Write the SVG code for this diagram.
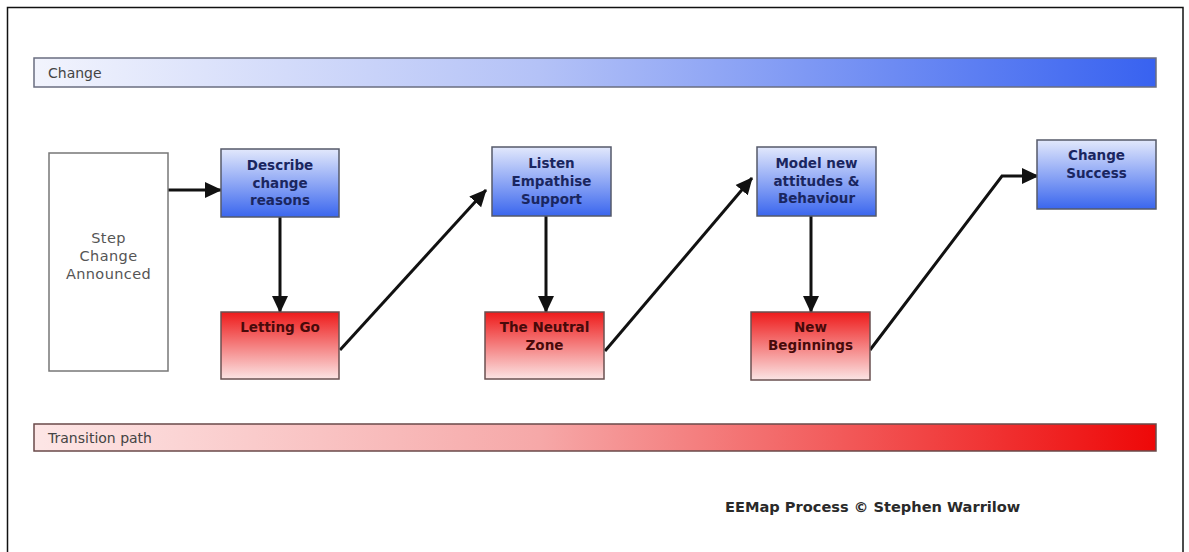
<svg xmlns="http://www.w3.org/2000/svg" width="1189" height="552" viewBox="0 0 1189 552">
<style>
.blue{stroke:#555a6a;stroke-width:1.5;fill:url(#gBlue)}
.red{stroke:#6a5050;stroke-width:1.5;fill:url(#gRed)}
.bt{font-family:"DejaVu Sans",Verdana,sans-serif;font-weight:bold;font-size:13.5px;fill:#1a2660;text-anchor:middle}
.rt{font-family:"DejaVu Sans",Verdana,sans-serif;font-weight:bold;font-size:13.5px;fill:#480a0a;text-anchor:middle}
.lbl{font-family:"DejaVu Sans",Verdana,sans-serif;font-size:14px;fill:#444}
.con{stroke:#111;stroke-width:3;fill:none;marker-end:url(#arr)}
</style>
<defs>
<linearGradient id="gBlue" x1="0" y1="0" x2="0" y2="1">
<stop offset="0" stop-color="#e2e8fc"/><stop offset="1" stop-color="#3a66ee"/>
</linearGradient>
<linearGradient id="gRed" x1="0" y1="0" x2="0" y2="1">
<stop offset="0" stop-color="#ee1a1a"/><stop offset="1" stop-color="#fbe4e4"/>
</linearGradient>
<linearGradient id="gBarB" x1="0" y1="0" x2="1" y2="0">
<stop offset="0" stop-color="#f2f4fd"/><stop offset="0.45" stop-color="#b4c2f7"/><stop offset="1" stop-color="#3862f0"/>
</linearGradient>
<linearGradient id="gBarR" x1="0" y1="0" x2="1" y2="0">
<stop offset="0" stop-color="#fde6e6"/><stop offset="0.45" stop-color="#f6a8a8"/><stop offset="1" stop-color="#ee0808"/>
</linearGradient>
<marker id="arr" markerUnits="userSpaceOnUse" markerWidth="18" markerHeight="18" viewBox="0 0 18 18" refX="16" refY="9" orient="auto">
<path d="M0,1 L17,9 L0,17 Z" fill="#111"/>
</marker>
</defs>
<rect x="0" y="0" width="1189" height="552" fill="#fff"/>
<rect x="7.5" y="7.5" width="1175.5" height="560" fill="none" stroke="#111" stroke-width="1.5"/>

<g id="bar-change">
<rect x="34" y="58" width="1122" height="29" fill="url(#gBarB)" stroke="#6a6e80" stroke-width="1.5"/>
<text class="lbl" x="48" y="78">Change</text>
</g>
<g id="bar-transition">
<rect x="34" y="424" width="1122" height="27" fill="url(#gBarR)" stroke="#6a4a4a" stroke-width="1.5"/>
<text class="lbl" x="48" y="443">Transition path</text>
</g>

<g id="connectors">
<line class="con" x1="168" y1="190" x2="221" y2="190"/>
<line class="con" x1="280" y1="217" x2="280" y2="312"/>
<line class="con" x1="340" y1="350" x2="486" y2="190"/>
<line class="con" x1="546" y1="216" x2="546" y2="312"/>
<line class="con" x1="605" y1="351" x2="752" y2="178"/>
<line class="con" x1="811" y1="216" x2="811" y2="312"/>
<polyline class="con" points="870,350 1002,176 1038,176"/>
</g>

<g id="n-step">
<rect x="49" y="153" width="119" height="218" fill="#fff" stroke="#777" stroke-width="1.5"/>
<text class="lbl" x="108.5" text-anchor="middle" style="fill:#555;font-size:14.5px;letter-spacing:0.4px"><tspan x="108.5" y="243">Step</tspan><tspan x="108.5" y="261">Change</tspan><tspan x="108.5" y="279">Announced</tspan></text>
</g>
<g id="n-describe">
<rect class="blue" x="221" y="149" width="118" height="68"/>
<text class="bt"><tspan x="280" y="170">Describe</tspan><tspan x="280" y="188">change</tspan><tspan x="280" y="205">reasons</tspan></text>
</g>
<g id="n-letting">
<rect class="red" x="221" y="312" width="118" height="67"/>
<text class="rt" x="280" y="332">Letting Go</text>
</g>
<g id="n-listen">
<rect class="blue" x="492" y="147" width="119" height="69"/>
<text class="bt"><tspan x="551.5" y="168">Listen</tspan><tspan x="551.5" y="186">Empathise</tspan><tspan x="551.5" y="204">Support</tspan></text>
</g>
<g id="n-neutral">
<rect class="red" x="485" y="312" width="119" height="67"/>
<text class="rt"><tspan x="544.5" y="332">The Neutral</tspan><tspan x="544.5" y="350">Zone</tspan></text>
</g>
<g id="n-model">
<rect class="blue" x="757" y="147" width="119" height="69"/>
<text class="bt"><tspan x="816.5" y="168">Model new</tspan><tspan x="816.5" y="186">attitudes &amp;</tspan><tspan x="816.5" y="203">Behaviour</tspan></text>
</g>
<g id="n-new">
<rect class="red" x="751" y="312" width="119" height="68"/>
<text class="rt"><tspan x="810.5" y="332">New</tspan><tspan x="810.5" y="350">Beginnings</tspan></text>
</g>
<g id="n-success">
<rect class="blue" x="1037" y="140" width="119" height="69"/>
<text class="bt"><tspan x="1096.5" y="160">Change</tspan><tspan x="1096.5" y="178">Success</tspan></text>
</g>

<text x="725" y="512" font-family="DejaVu Sans, Verdana, sans-serif" font-weight="bold" font-size="14.6" fill="#2a2a2a">EEMap Process © Stephen Warrilow</text>
</svg>
